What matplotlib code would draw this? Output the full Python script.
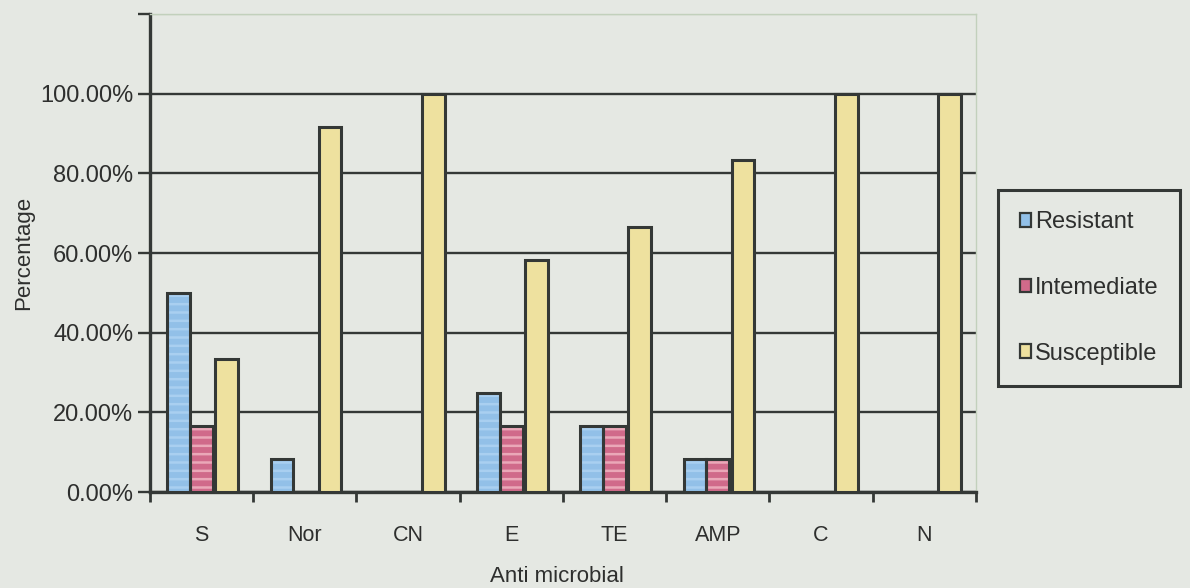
import numpy as np
import matplotlib.pyplot as plt
from matplotlib.patches import Patch

# data
drugs = ['S', 'Nor', 'CN', 'E', 'TE', 'AMP', 'C', 'N']
resistant = [0.50, 0.0833, 0.0, 0.25, 0.1667, 0.0833, 0.0, 0.0]
intermediate = [0.1667, 0.0, 0.0, 0.1667, 0.1667, 0.0833, 0.0, 0.0]
susceptible = [0.3333, 0.9167, 1.0, 0.5833, 0.6667, 0.8333, 1.0, 1.0]
series_names = ['Resistant', 'Intemediate', 'Susceptible']

bg = '#e5e8e3'
dark = '#343836'
text_col = '#2e2f2e'
fill_cols = ['#92c0e8', '#d06a8a', '#eee19f']
stripe_cols = ['#a9cff0', '#eaa8b8', '#eee19f']

plt.rcParams['font.family'] = ['Liberation Sans', 'DejaVu Sans']
plt.rcParams['hatch.linewidth'] = 1.8

fig = plt.figure(figsize=(11.9, 5.88), dpi=100, facecolor=bg)
ax = fig.add_axes([0.126, 0.163, 0.694, 0.813], facecolor=bg)

x = np.arange(len(drugs))
width = 0.22
offsets = [-0.22, 0.0, 0.245]
for vals, off, fc, sc in zip([resistant, intermediate, susceptible], offsets, fill_cols, stripe_cols):
    # striped fill first, then the dark outline on top
    ax.bar(x + off, vals, width, color=fc, edgecolor=sc, hatch='--', linewidth=0, zorder=3)
    ax.bar(x + off, vals, width, fill=False, edgecolor=dark, linewidth=2.2, zorder=4)

ax.set_xlim(-0.5, len(drugs) - 0.5)
ax.set_ylim(0, 1.2)

ax.set_yticks(np.arange(0, 1.21, 0.2))
ax.set_yticklabels(['%.2f%%' % (v * 100) for v in np.arange(0, 1.01, 0.2)] + [''])
ax.yaxis.grid(True, color=dark, linewidth=1.7, zorder=1)
ax.set_axisbelow(True)
ax.get_ygridlines()[-1].set_color('#c2d0bc')
ax.get_ygridlines()[-1].set_linewidth(1.0)

ax.set_xticks(x)
ax.set_xticklabels(drugs)
ax.set_xticks(np.arange(len(drugs) + 1) - 0.5, minor=True)
ax.tick_params(axis='x', which='major', length=0, pad=24, labelsize=15.5, labelcolor=text_col)
ax.tick_params(axis='x', which='minor', length=7, width=2, color=dark, direction='out')
ax.tick_params(axis='y', length=9, width=1.7, color=dark, pad=3, labelsize=17, labelcolor=text_col)

for side in ['left', 'bottom']:
    ax.spines[side].set_color(dark)
    ax.spines[side].set_linewidth(2.4)
for side in ['top', 'right']:
    ax.spines[side].set_color('#c2d0bc')
    ax.spines[side].set_linewidth(1.0)

fig.text(0.02, 0.57, 'Percentage', rotation=90, ha='center', va='center',
         fontsize=16, color=text_col)
fig.text(0.468, 0.02, 'Anti microbial', ha='center', va='center',
         fontsize=16, color=text_col)

handles = [Patch(facecolor=c, edgecolor=dark, linewidth=1.6) for c in fill_cols]
leg = fig.legend(handles, series_names, loc='upper left', bbox_to_anchor=(0.839, 0.677),
                 frameon=True, fancybox=False, framealpha=1, facecolor=bg, edgecolor=dark,
                 fontsize=17, handlelength=0.5, handleheight=0.5, handletextpad=0.15,
                 labelspacing=1.85, borderpad=0.9, borderaxespad=0)
leg.get_frame().set_linewidth(2.2)
for t in leg.get_texts():
    t.set_color(text_col)

fig.savefig('out.png', dpi=100, facecolor=bg)
